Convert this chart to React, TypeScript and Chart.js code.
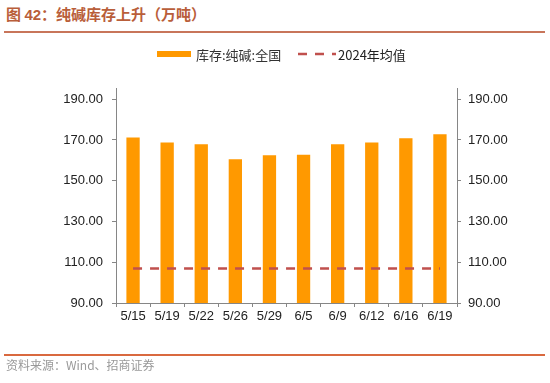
import React, { useEffect, useRef } from "react";
import { Chart, registerables } from "chart.js";

Chart.register(...registerables);

const categories = ["5/15", "5/19", "5/22", "5/26", "5/29", "6/5", "6/9", "6/12", "6/16", "6/19"];
const inventory = [171.2, 168.7, 167.9, 160.5, 162.5, 162.8, 167.9, 168.7, 170.8, 172.8];
const avg2024 = [106.9, 106.9, 106.9, 106.9, 106.9, 106.9, 106.9, 106.9, 106.9, 106.9];
const seriesNames = ["库存:纯碱:全国", "2024年均值"];
const yTicks = [90, 110, 130, 150, 170, 190];
const yMin = 90;
const yMax = 195.5;

const FONT = "'Liberation Sans', Arial, sans-serif";

export default function App() {
  const ref = useRef<HTMLCanvasElement | null>(null);

  useEffect(() => {
    if (!ref.current) return;
    const setTicks = (scale: any) => {
      scale.ticks = yTicks.map((v) => ({ value: v }));
    };
    const chart = new Chart(ref.current, {
      type: "bar",
      data: {
        labels: categories,
        datasets: [
          {
            type: "bar",
            label: seriesNames[0],
            data: inventory,
            backgroundColor: "#FF9900",
            borderWidth: 0,
            barPercentage: 0.39,
            categoryPercentage: 1,
            yAxisID: "y",
            order: 2,
          },
          {
            type: "line",
            label: seriesNames[1],
            data: avg2024,
            borderColor: "#C0504D",
            borderWidth: 2.5,
            borderDash: [9, 8],
            pointRadius: 0,
            fill: false,
            yAxisID: "y",
            order: 1,
          } as any,
        ],
      },
      options: {
        responsive: false,
        animation: false,
        layout: { padding: { top: 88, left: 0, right: 0, bottom: 0 } },
        plugins: { legend: { display: false }, tooltip: { enabled: false } },
        scales: {
          x: {
            offset: true,
            grid: {
              offset: true,
              drawOnChartArea: false,
              drawTicks: true,
              tickLength: 4,
              color: "#868686",
            },
            border: { color: "#868686", width: 1 },
            ticks: { color: "#222", font: { family: FONT, size: 13 }, padding: 2, maxRotation: 0 },
            afterFit: (s: any) => { s.height = 80; },
          },
          y: {
            position: "left",
            min: yMin,
            max: yMax,
            ticks: {
              color: "#222",
              font: { family: FONT, size: 13 },
              padding: 9,
              callback: (v: any) => Number(v).toFixed(2),
            },
            grid: { drawOnChartArea: false, drawTicks: true, tickLength: 4, color: "#868686" },
            border: { color: "#868686", width: 1 },
            afterBuildTicks: setTicks,
            afterFit: (s: any) => { s.width = 116; },
          },
          y2: {
            position: "right",
            min: yMin,
            max: yMax,
            ticks: {
              color: "#222",
              font: { family: FONT, size: 13 },
              padding: 7,
              callback: (v: any) => Number(v).toFixed(2),
            },
            grid: { drawOnChartArea: false, drawTicks: true, tickLength: 4, color: "#868686" },
            border: { color: "#868686", width: 1 },
            afterBuildTicks: setTicks,
            afterFit: (s: any) => { s.width = 93; },
          },
        },
      } as any,
    });
    return () => chart.destroy();
  }, []);

  return (
    <div style={{ position: "absolute", left: 0, top: 0, width: 550, height: 383, background: "#fff", overflow: "hidden" }}>
      <div
        style={{
          position: "absolute",
          left: 6,
          top: 4,
          fontFamily: "'Noto Sans CJK SC', sans-serif",
          fontSize: 15,
          fontWeight: 700,
          color: "#B95E3A",
          lineHeight: "20px",
          whiteSpace: "nowrap",
        }}
      >
        图 <span style={{ fontFamily: FONT }}>42</span>：纯碱库存上升（万吨）
      </div>
      <div style={{ position: "absolute", left: 4, top: 31, width: 541, height: 1.5, background: "#C8755A" }} />
      <canvas ref={ref} width={550} height={383} style={{ position: "absolute", left: 0, top: 0 }} />
      <div style={{ position: "absolute", left: 157, top: 45, height: 18, display: "flex", alignItems: "center", fontFamily: "'Noto Sans CJK SC', " + FONT, fontSize: 13, color: "#333", whiteSpace: "nowrap" }}>
        <div style={{ width: 34, height: 6, background: "#FF9900", marginRight: 5 }} />
        <span>{seriesNames[0]}</span>
      </div>
      <div style={{ position: "absolute", left: 298, top: 45, height: 18, display: "flex", alignItems: "center", fontFamily: "'Noto Sans CJK SC', " + FONT, fontSize: 13, color: "#222", whiteSpace: "nowrap" }}>
        <svg width={38} height={6} style={{ marginRight: 2 }}>
          <line x1={0} y1={3} x2={38} y2={3} stroke="#C0504D" strokeWidth={2.5} strokeDasharray="9 8" />
        </svg>
        <span>{seriesNames[1]}</span>
      </div>
      <div style={{ position: "absolute", left: 4, top: 354, width: 541, height: 1.5, background: "#D9693F" }} />
      <div style={{ position: "absolute", left: 6, top: 357, fontFamily: "'Noto Sans CJK SC', sans-serif", fontSize: 12, color: "#999", whiteSpace: "nowrap", lineHeight: "16px" }}>
        资料来源：Wind、招商证券
      </div>
    </div>
  );
}
